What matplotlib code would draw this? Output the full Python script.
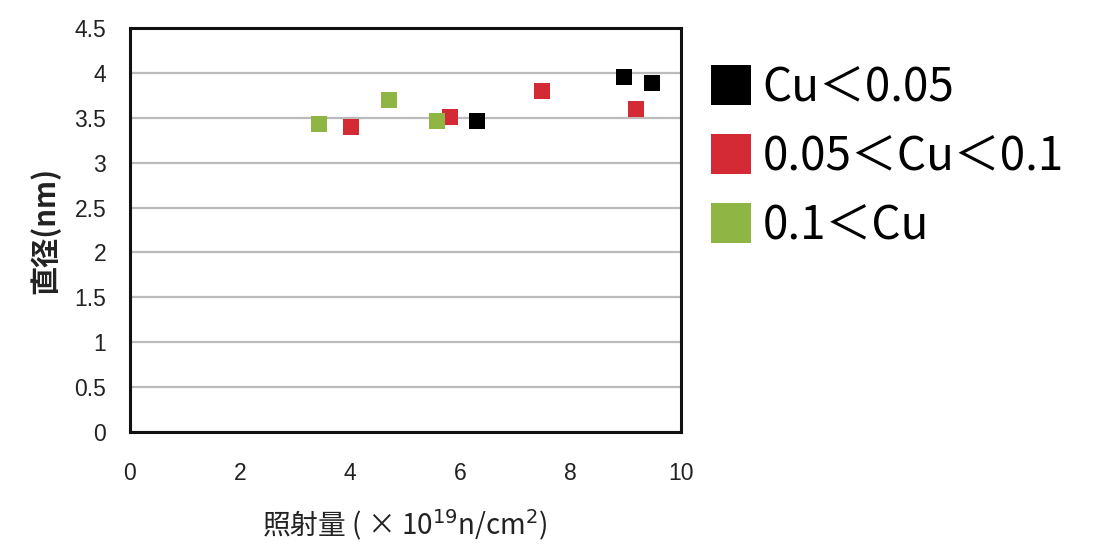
import matplotlib.pyplot as plt
from matplotlib.lines import Line2D

plt.rcParams['font.family'] = ['Liberation Sans', 'Noto Sans CJK JP', 'DejaVu Sans']

# irradiation dose (x1e19 n/cm2) and diameter (nm) per Cu group
low_cu_x = [6.3, 8.97, 9.48]
low_cu_y = [3.46, 3.95, 3.89]
mid_cu_x = [4.01, 5.82, 7.49, 9.19]
mid_cu_y = [3.40, 3.51, 3.80, 3.60]
high_cu_x = [3.44, 4.70, 5.57]
high_cu_y = [3.43, 3.70, 3.46]

labels = ['Cu＜0.05', '0.05＜Cu＜0.1', '0.1＜Cu']
colors = ['#000000', '#d42a35', '#8fb545']

xticks = [0, 2, 4, 6, 8, 10]
yticks = [0, 0.5, 1, 1.5, 2, 2.5, 3, 3.5, 4, 4.5]

fig = plt.figure(figsize=(11.05, 5.44), dpi=100)
ax = fig.add_axes([0.1176, 0.206, 0.4984, 0.7425])

series = [(low_cu_x, low_cu_y), (mid_cu_x, mid_cu_y), (high_cu_x, high_cu_y)]
for (xs, ys), c in zip(series, colors):
    ax.plot(xs, ys, linestyle='none', marker='s', markersize=12,
            color=c, markeredgewidth=0, zorder=3)

ax.set_xlim(0, 10)
ax.set_ylim(0, 4.5)
ax.set_xticks(xticks)
ax.set_yticks(yticks)
ax.set_yticklabels([('%g' % v) for v in yticks])
ax.tick_params(length=0, labelsize=16.5, colors='#222222')
ax.tick_params(axis='x', pad=22)
ax.tick_params(axis='y', pad=17)
ax.grid(axis='y', color='#bbbbbb', linewidth=1.6)
ax.set_axisbelow(True)
for s in ax.spines.values():
    s.set_linewidth(2.2)
    s.set_color('#111111')

ax.set_ylabel('直径(nm)', fontsize=21, fontweight='bold', color='#222222',
              family=['Noto Sans CJK JP', 'DejaVu Sans'], labelpad=10)
ax.set_xlabel('照射量 ( × 10$^{19}$n/cm$^{2}$)', fontsize=20, color='#222222',
              family=['Noto Sans CJK JP', 'DejaVu Sans'], labelpad=16)

handles = [Line2D([], [], linestyle='none', marker='s', markersize=29,
                  color=c, markeredgewidth=0) for c in colors]
fig.legend(handles, labels, loc='upper left', bbox_to_anchor=(0.624, 0.925),
           frameon=False, handlelength=0.8, handletextpad=0.3,
           labelspacing=0.45, borderpad=0,
           prop={'family': ['Noto Sans CJK JP', 'DejaVu Sans'], 'size': 33})

fig.savefig('out.png', dpi=100)
